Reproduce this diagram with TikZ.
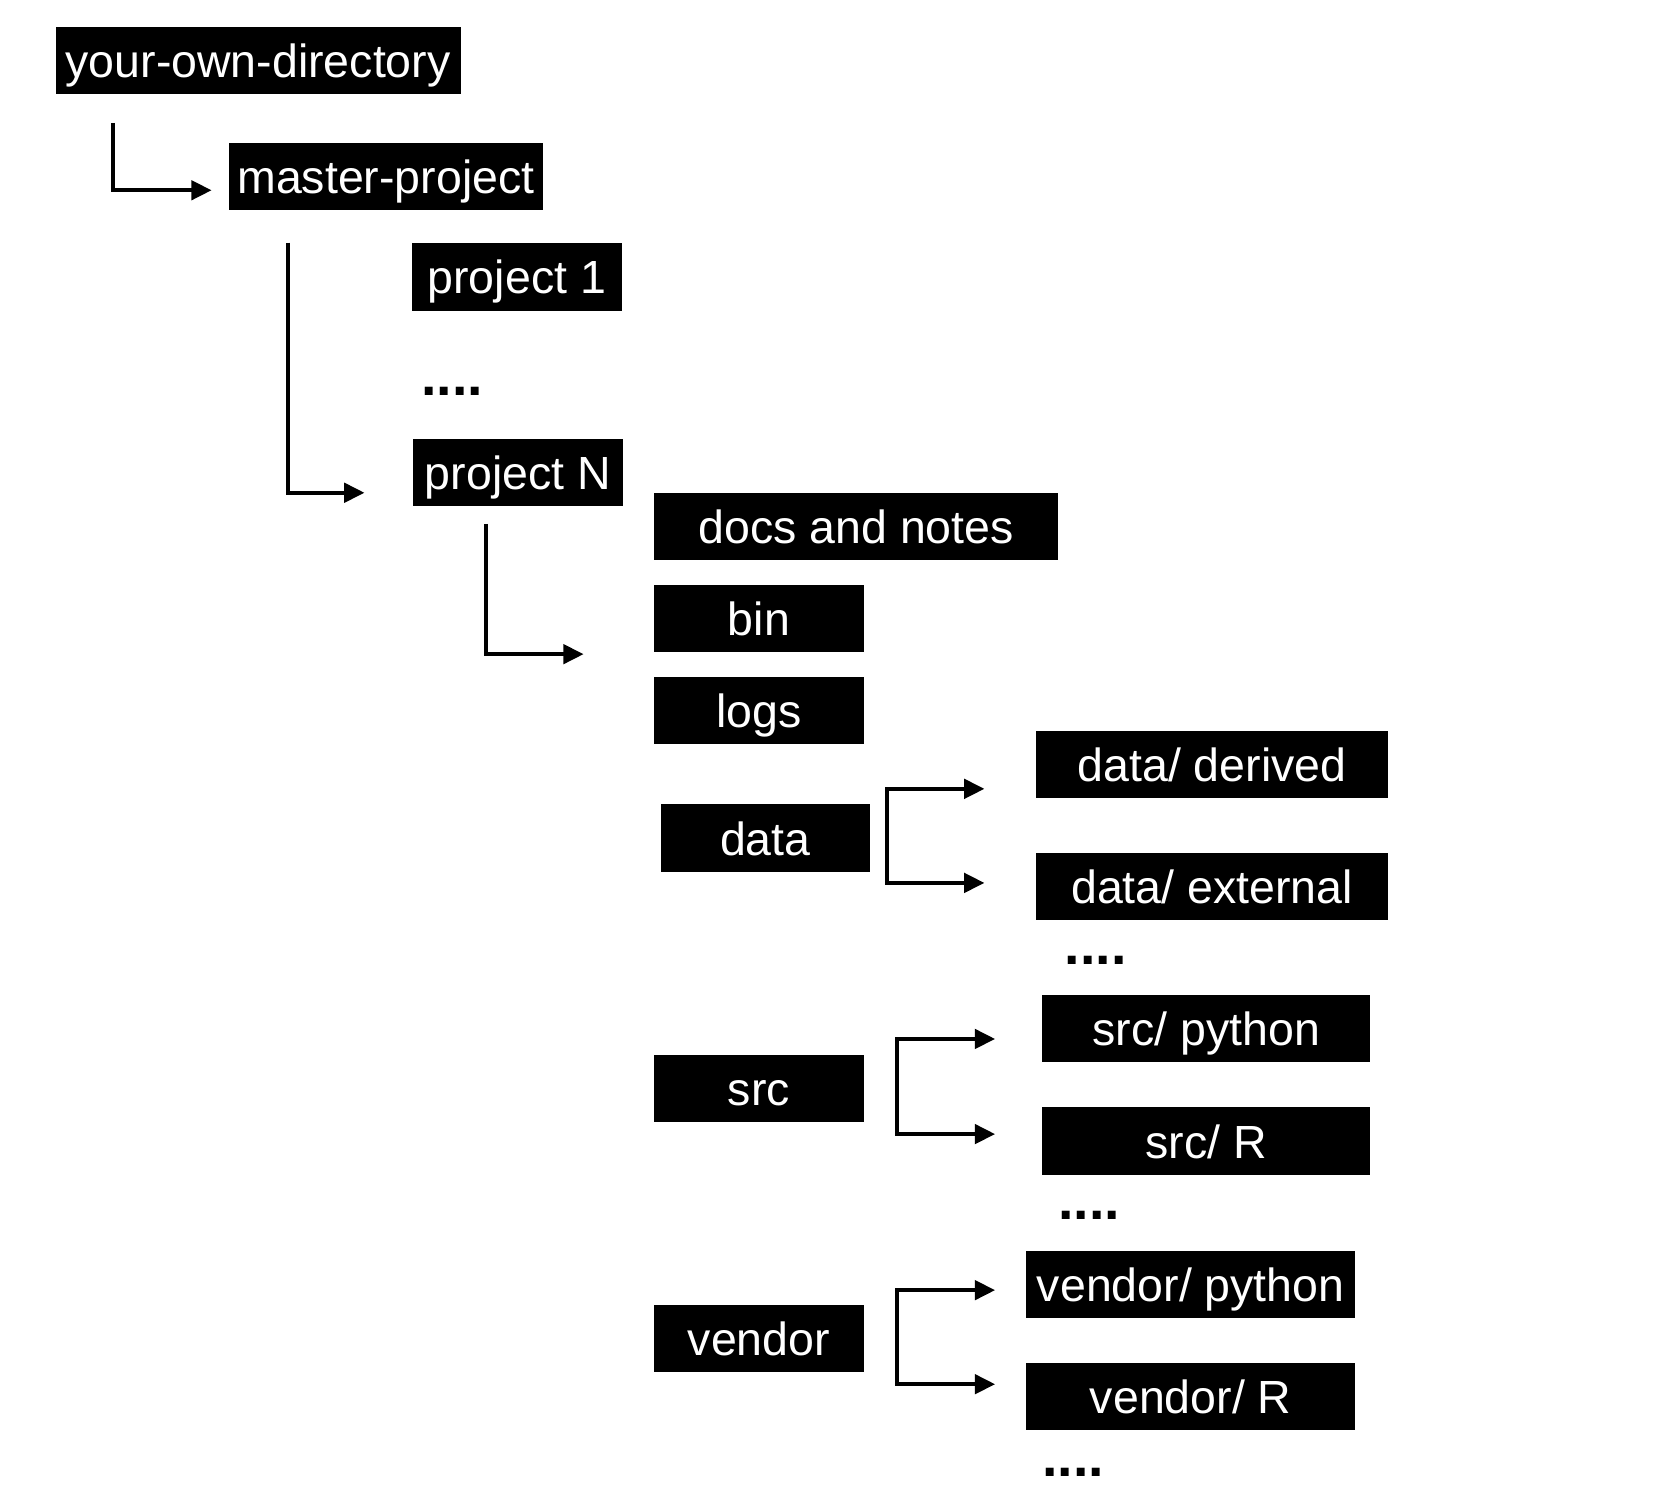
\documentclass[tikz,border=0pt]{standalone}
\usepackage{fontspec}
\setmainfont{Liberation Sans}
\usetikzlibrary{arrows.meta}
\begin{document}
\begin{tikzpicture}[x=1pt,y=-1pt,
  dirbox/.style={fill=black,text=white,inner xsep=0pt,inner ysep=0pt,
    text height=47.5pt,text depth=15.5pt,
    font=\fontsize{43.5}{50}\selectfont,anchor=center},
  more/.style={font=\fontsize{52}{58}\selectfont\bfseries,anchor=base west,inner sep=0pt},
  linkarrow/.style={line width=3.8pt,line join=miter,-{Triangle[length=19pt,width=18pt]}},
  bracketarrow/.style={line width=3.8pt,line join=miter,
    {Triangle[length=19pt,width=18pt]}-{Triangle[length=19pt,width=18pt]}}]
\useasboundingbox (0,0) rectangle (1568,1411);
% boxes
\node[dirbox,minimum width=379pt] (yod) at (241.5,56.5) {your-own-directory};
\node[dirbox,minimum width=294pt] (mp) at (361,165) {master-project};
\node[dirbox,minimum width=197pt] (p1) at (483.5,259) {project 1};
\node[more] (dots1) at (394,370) {....};
\node[dirbox,minimum width=197pt] (pN) at (484.5,442) {project N};
\node[dirbox,minimum width=378pt] (docs) at (801,492.5) {docs and notes};
\node[dirbox,minimum width=196pt] (bin) at (710,578.5) {bin};
\node[dirbox,minimum width=196pt] (logs) at (710,664.5) {logs};
\node[dirbox,minimum width=196pt] (data) at (716,784) {data};
\node[dirbox,minimum width=330pt] (dder) at (1134,715.5) {data/ derived};
\node[dirbox,minimum width=330pt] (dext) at (1134,829.5) {data/ external};
\node[more] (dots2) at (996,902) {....};
\node[dirbox,minimum width=307pt] (spy) at (1128.5,962.5) {src/ python};
\node[dirbox,minimum width=196pt] (src) at (710,1018.5) {src};
\node[dirbox,minimum width=307pt] (sr) at (1128.5,1067.5) {src/ R};
\node[more] (dots3) at (990,1141) {....};
\node[dirbox,minimum width=308pt] (vpy) at (1114,1201.5) {vendor/ python};
\node[dirbox,minimum width=196pt] (vendor) at (710,1252.5) {vendor};
\node[dirbox,minimum width=308pt] (vr) at (1114,1306.5) {vendor/ R};
\node[more] (dots4) at (975,1381) {....};
% connector points
\coordinate (a1) at (106,115);
\coordinate (a2) at (198,178);
\coordinate (b1) at (269,227);
\coordinate (b2) at (341,461);
\coordinate (c1) at (455,490);
\coordinate (c2) at (546,612);
\coordinate (d1) at (830,738);
\coordinate (d2) at (830,826);
\coordinate (d1t) at (921,738);
\coordinate (d2t) at (921,826);
\coordinate (e1) at (839,972);
\coordinate (e2) at (839,1061);
\coordinate (e1t) at (931,972);
\coordinate (e2t) at (931,1061);
\coordinate (f1) at (839,1207);
\coordinate (f2) at (839,1295);
\coordinate (f1t) at (931,1207);
\coordinate (f2t) at (931,1295);
% connectors
\draw[linkarrow] (a1) |- (a2);
\draw[linkarrow] (b1) |- (b2);
\draw[linkarrow] (c1) |- (c2);
\draw[bracketarrow] (d1t) -- (d1) -- (d2) -- (d2t);
\draw[bracketarrow] (e1t) -- (e1) -- (e2) -- (e2t);
\draw[bracketarrow] (f1t) -- (f1) -- (f2) -- (f2t);
\end{tikzpicture}
\end{document}
